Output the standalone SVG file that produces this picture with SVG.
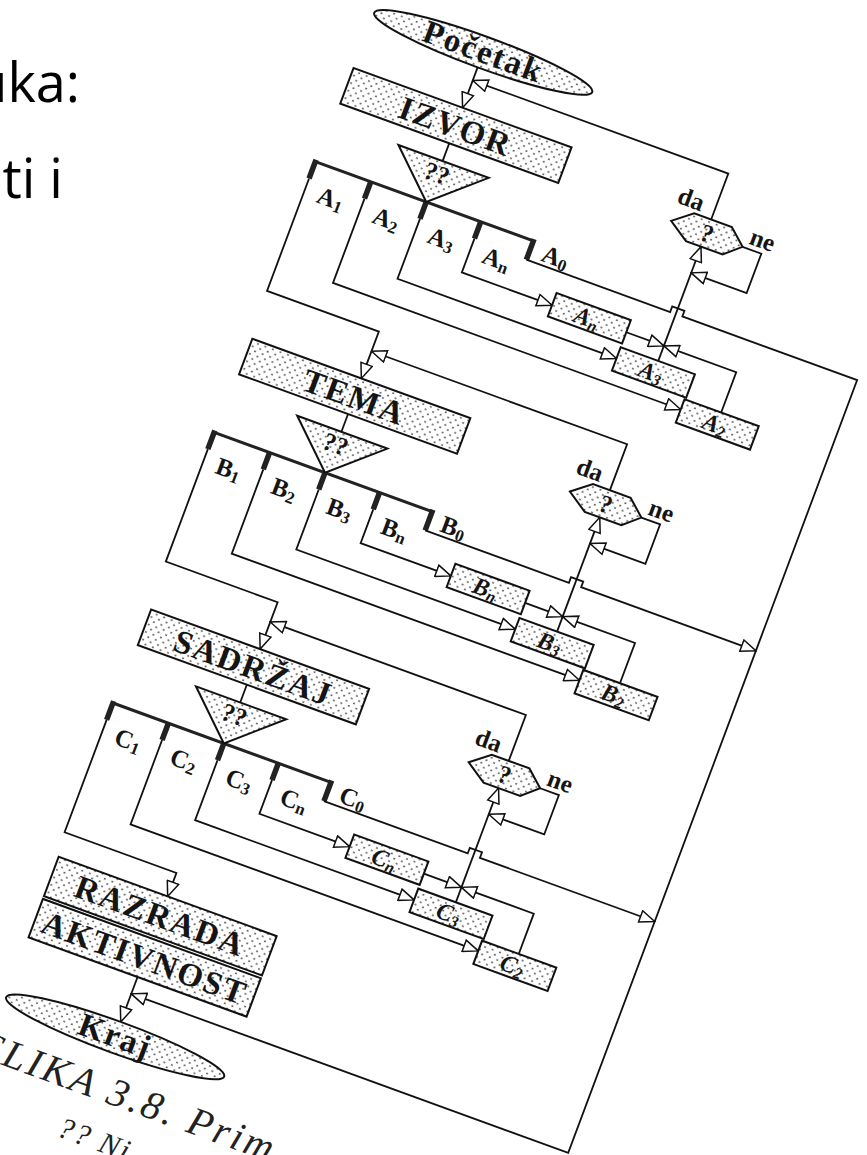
<svg xmlns="http://www.w3.org/2000/svg" width="867" height="1155" viewBox="0 0 867 1155">
<defs>
<pattern id="dots" width="8" height="8" patternUnits="userSpaceOnUse"><rect width="8" height="8" fill="#fff"/><circle cx="2" cy="2" r="0.9" fill="#3a3a3a"/><circle cx="6" cy="6" r="0.9" fill="#3a3a3a"/></pattern>
<marker id="ar" viewBox="0 0 17 14" refX="16" refY="7" markerWidth="17" markerHeight="14" markerUnits="userSpaceOnUse" orient="auto"><path d="M1,1 L16,7 L1,13 Z" fill="#fff" stroke="#111" stroke-width="1.5"/></marker>
</defs>
<style>
.ln{fill:none;stroke:#111;stroke-width:1.8}
.bar{fill:none;stroke:#222;stroke-width:3}
.stub{fill:none;stroke:#222;stroke-width:5.5}
.shape{fill:url(#dots);stroke:#111;stroke-width:2}
.t{font-family:"Liberation Serif","Times New Roman",serif;font-weight:bold;fill:#151515}
.big{font-size:33px;letter-spacing:2px;text-anchor:middle}
.it{font-style:italic;font-size:24px;text-anchor:middle}
.br{font-size:25px}
.yn{font-size:25px}
.q{font-size:25px;text-anchor:middle}
.side{font-family:"Open Sans","Noto Sans",sans-serif;font-size:54px;fill:#000;text-anchor:end}
.cap{font-family:"Liberation Serif","Times New Roman",serif;font-style:italic;fill:#222}
</style>
<rect width="867" height="1155" fill="#fff"/>
<text class="side" x="80" y="102">uka:</text>
<text class="side" x="63" y="198">ti i</text>
<g transform="rotate(20) skewX(-0.5)">
<g id="connectors">
 <path class="ln" d="M471,-100 V-57" marker-end="url(#ar)"/>
 <g id="conn-a">
  <path class="ln" d="M471,-19 V0"/>
  <path class="bar" d="M352,44 H584"/>
  <path class="stub" d="M352,42 V62 M411,44 V62 M470,44 V62 M528,44 V62 M584,42 V64"/>
  <path class="ln" d="M411,62 V152 H781" marker-end="url(#ar)"/>
  <path class="ln" d="M470,62 V126 H703" marker-end="url(#ar)"/>
  <path class="ln" d="M528,62 V98 H624" marker-end="url(#ar)"/>
  <path class="ln" d="M703,98 H743" marker-end="url(#ar)"/>
  <path class="ln" d="M820,141 V98 H743" marker-end="url(#ar)"/>
  <path class="ln" d="M743,114 V-8" marker-end="url(#ar)"/>
  <path class="ln" d="M782,-22 H802 V20 H743" marker-end="url(#ar)"/>
  <path class="ln" d="M743,-37 V-86 H471" marker-end="url(#ar)"/>
  <path class="ln" d="M352,62 V182 H471 V232" marker-end="url(#ar)"/>
  <path class="ln" d="M584,64 H737 V58 H750 V64 H936 V889 H471" marker-end="url(#ar)"/>
  <text class="t br" x="366" y="82">A<tspan font-size="17" dy="3">1</tspan></text>
  <text class="t br" x="425" y="82">A<tspan font-size="17" dy="3">2</tspan></text>
  <text class="t br" x="484" y="82">A<tspan font-size="17" dy="3">3</tspan></text>
  <text class="t br" x="542" y="82">A<tspan font-size="17" dy="3">n</tspan></text>
  <text class="t br" x="597" y="60">A<tspan font-size="17" dy="3">0</tspan></text>
  <text class="t yn" x="704" y="-41">da</text>
  <text class="t yn" x="786" y="-27">ne</text>
 </g>
 <g id="conn-b" transform="translate(0,289)">
  <path class="ln" d="M471,-19 V0"/>
  <path class="bar" d="M352,44 H584"/>
  <path class="stub" d="M352,42 V62 M411,44 V62 M470,44 V62 M528,44 V62 M584,42 V64"/>
  <path class="ln" d="M411,62 V152 H781" marker-end="url(#ar)"/>
  <path class="ln" d="M470,62 V126 H703" marker-end="url(#ar)"/>
  <path class="ln" d="M528,62 V98 H624" marker-end="url(#ar)"/>
  <path class="ln" d="M703,98 H743" marker-end="url(#ar)"/>
  <path class="ln" d="M820,141 V98 H743" marker-end="url(#ar)"/>
  <path class="ln" d="M743,114 V-8" marker-end="url(#ar)"/>
  <path class="ln" d="M782,-22 H802 V20 H743" marker-end="url(#ar)"/>
  <path class="ln" d="M743,-37 V-86 H471" marker-end="url(#ar)"/>
  <path class="ln" d="M352,62 V182 H471 V232" marker-end="url(#ar)"/>
  <path class="ln" d="M584,64 H737 V58 H750 V64 H936" marker-end="url(#ar)"/>
  <text class="t br" x="366" y="82">B<tspan font-size="17" dy="3">1</tspan></text>
  <text class="t br" x="425" y="82">B<tspan font-size="17" dy="3">2</tspan></text>
  <text class="t br" x="484" y="82">B<tspan font-size="17" dy="3">3</tspan></text>
  <text class="t br" x="542" y="82">B<tspan font-size="17" dy="3">n</tspan></text>
  <text class="t br" x="597" y="60">B<tspan font-size="17" dy="3">0</tspan></text>
  <text class="t yn" x="704" y="-41">da</text>
  <text class="t yn" x="786" y="-27">ne</text>
 </g>
 <g id="conn-c" transform="translate(0,578)">
  <path class="ln" d="M471,-19 V0"/>
  <path class="bar" d="M352,44 H584"/>
  <path class="stub" d="M352,42 V62 M411,44 V62 M470,44 V62 M528,44 V62 M584,42 V64"/>
  <path class="ln" d="M411,62 V152 H781" marker-end="url(#ar)"/>
  <path class="ln" d="M470,62 V126 H703" marker-end="url(#ar)"/>
  <path class="ln" d="M528,62 V98 H624" marker-end="url(#ar)"/>
  <path class="ln" d="M703,98 H743" marker-end="url(#ar)"/>
  <path class="ln" d="M820,141 V98 H743" marker-end="url(#ar)"/>
  <path class="ln" d="M743,114 V-8" marker-end="url(#ar)"/>
  <path class="ln" d="M782,-22 H802 V20 H743" marker-end="url(#ar)"/>
  <path class="ln" d="M743,-37 V-86 H471" marker-end="url(#ar)"/>
  <path class="ln" d="M352,62 V182 H471 V207" marker-end="url(#ar)"/>
  <path class="ln" d="M584,64 H737 V58 H750 V64 H936" marker-end="url(#ar)"/>
  <text class="t br" x="366" y="82">C<tspan font-size="17" dy="3">1</tspan></text>
  <text class="t br" x="425" y="82">C<tspan font-size="17" dy="3">2</tspan></text>
  <text class="t br" x="484" y="82">C<tspan font-size="17" dy="3">3</tspan></text>
  <text class="t br" x="542" y="82">C<tspan font-size="17" dy="3">n</tspan></text>
  <text class="t br" x="597" y="60">C<tspan font-size="17" dy="3">0</tspan></text>
  <text class="t yn" x="704" y="-41">da</text>
  <text class="t yn" x="786" y="-27">ne</text>
 </g>
 <path class="ln" d="M471,871 V919" marker-end="url(#ar)"/>
</g>
<g id="start"><ellipse class="shape" cx="471" cy="-116" rx="116" ry="16"/><text class="t big" font-size="30" x="471" y="-106">Početak</text></g>
<g id="izvor"><rect class="shape" x="355" y="-57" width="232" height="38"/><text class="t big" x="471" y="-26">IZVOR</text></g>
<g id="izvor-choice"><polygon class="shape" points="424,0 520,0 470,44"/><text class="t q" x="470" y="22">??</text></g>
<g id="a-n"><rect class="shape" x="624" y="85" width="79" height="25"/><text class="t it" x="661" y="106">A<tspan font-size="16" dy="3">n</tspan></text></g>
<g id="a-3"><rect class="shape" x="703" y="114" width="79" height="25"/><text class="t it" x="740" y="135">A<tspan font-size="16" dy="3">3</tspan></text></g>
<g id="a-2"><rect class="shape" x="781" y="141" width="79" height="25"/><text class="t it" x="818" y="162">A<tspan font-size="16" dy="3">2</tspan></text></g>
<g id="a-check"><polygon class="shape" points="706,-22 725,-37 765,-37 782,-22 766,-8 727,-8"/><text class="t q" font-size="22" x="744" y="-14">?</text></g>
<g id="tema" transform="translate(0,289)"><rect class="shape" x="355" y="-57" width="232" height="38"/><text class="t big" x="471" y="-26">TEMA</text></g>
<g id="tema-choice" transform="translate(0,289)"><polygon class="shape" points="424,0 520,0 470,44"/><text class="t q" x="470" y="22">??</text></g>
<g id="b-n" transform="translate(0,289)"><rect class="shape" x="624" y="85" width="79" height="25"/><text class="t it" x="661" y="106">B<tspan font-size="16" dy="3">n</tspan></text></g>
<g id="b-3" transform="translate(0,289)"><rect class="shape" x="703" y="114" width="79" height="25"/><text class="t it" x="740" y="135">B<tspan font-size="16" dy="3">3</tspan></text></g>
<g id="b-2" transform="translate(0,289)"><rect class="shape" x="781" y="141" width="79" height="25"/><text class="t it" x="818" y="162">B<tspan font-size="16" dy="3">2</tspan></text></g>
<g id="b-check" transform="translate(0,289)"><polygon class="shape" points="706,-22 725,-37 765,-37 782,-22 766,-8 727,-8"/><text class="t q" font-size="22" x="744" y="-14">?</text></g>
<g id="sadrzaj" transform="translate(0,578)"><rect class="shape" x="355" y="-57" width="232" height="38"/><text class="t big" x="471" y="-26">SADRŽAJ</text></g>
<g id="sadrzaj-choice" transform="translate(0,578)"><polygon class="shape" points="424,0 520,0 470,44"/><text class="t q" x="470" y="22">??</text></g>
<g id="c-n" transform="translate(0,578)"><rect class="shape" x="624" y="85" width="79" height="25"/><text class="t it" x="661" y="106">C<tspan font-size="16" dy="3">n</tspan></text></g>
<g id="c-3" transform="translate(0,578)"><rect class="shape" x="703" y="114" width="79" height="25"/><text class="t it" x="740" y="135">C<tspan font-size="16" dy="3">3</tspan></text></g>
<g id="c-2" transform="translate(0,578)"><rect class="shape" x="781" y="141" width="79" height="25"/><text class="t it" x="818" y="162">C<tspan font-size="16" dy="3">2</tspan></text></g>
<g id="c-check" transform="translate(0,578)"><polygon class="shape" points="706,-22 725,-37 765,-37 782,-22 766,-8 727,-8"/><text class="t q" font-size="22" x="744" y="-14">?</text></g>
<g id="razrada"><rect class="shape" x="355" y="785" width="232" height="42"/><text class="t big" x="471" y="817">RAZRADA</text></g>
<g id="aktivnost"><rect class="shape" x="355" y="830" width="232" height="41"/><text class="t big" x="471" y="862">AKTIVNOST</text></g>
<g id="end"><ellipse class="shape" cx="471" cy="935" rx="116" ry="16"/><text class="t big" font-size="30" x="471" y="945">Kraj</text></g>
<text class="cap" x="350" y="1000" font-size="40" letter-spacing="3">SLIKA 3.8. Prim</text>
<text class="cap" x="450" y="1048" font-size="30" letter-spacing="2">?? Ni</text>
</g>
</svg>
